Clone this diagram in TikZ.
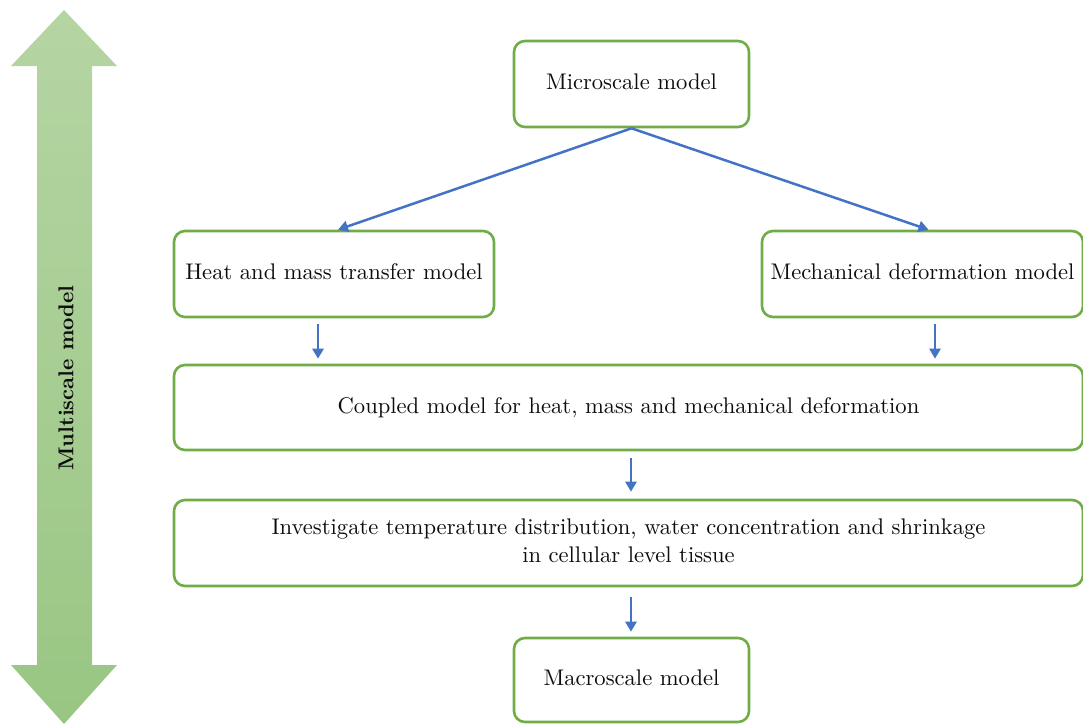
\documentclass[tikz,border=0pt]{standalone}
\usepackage{graphicx}
\usetikzlibrary{arrows.meta,calc}
\definecolor{boxgreen}{HTML}{70AD47}
\definecolor{flowblue}{HTML}{4472C4}
\definecolor{arrowtop}{HTML}{B5D5A3}
\definecolor{arrowbot}{HTML}{99C683}
\definecolor{ink}{HTML}{0D0D0D}
% text set at its 10pt design size, then enlarged
\newcommand{\lbl}[1]{\scalebox{2.26}{\fontsize{10}{12.4}\selectfont\begin{tabular}{@{}c@{}}#1\end{tabular}}}
\tikzset{
  stage/.style={draw=boxgreen, line width=2.6pt, rounded corners=11pt, fill=white,
    text=ink, align=center, inner sep=0pt},
  flow/.style={draw=flowblue, line width=2.5pt, -{Triangle[length=10pt,width=11pt]}},
}
\begin{document}
\begin{tikzpicture}[x=1pt,y=-1pt]
\useasboundingbox (0,0) rectangle (1083,725);

% scale indicator: double-headed arrow on the left
\shade[top color=arrowtop, bottom color=arrowbot]
  (64,10) -- (117,66) -- (92,66) -- (92,665) -- (117,665) -- (64,724)
  -- (11,665) -- (37,665) -- (37,66) -- (11,66) -- cycle;
\node[rotate=90, text=ink, inner sep=0pt] (scale) at (66,378)
  {\scalebox{2.15}{\fontsize{10}{12}\selectfont\bfseries Multiscale model}};

% model stages
\node[stage, minimum width=235pt, minimum height=86pt] (micro) at (631.5,84) {\lbl{Microscale model}};
\node[stage, minimum width=320pt, minimum height=86pt] (heat) at (334,274) {\lbl{Heat and mass transfer model}};
\node[stage, minimum width=321pt, minimum height=86pt] (mech) at (922.5,274) {\lbl{Mechanical deformation model}};
\node[stage, minimum width=909pt, minimum height=85pt] (coupled) at (628.5,407.5) {\lbl{Coupled model for heat, mass and mechanical deformation}};
\node[stage, minimum width=909pt, minimum height=86pt] (invest) at (628.5,543) {\lbl{Investigate temperature distribution, water concentration and shrinkage\\ in cellular level tissue}};
\node[stage, minimum width=235pt, minimum height=84pt] (macro) at (631.5,680) {\lbl{Macroscale model}};

% connectors
\draw[flow] (micro.south) -- ([xshift=4pt]heat.north);
\draw[flow] (micro.south) -- ([xshift=6pt]mech.north);
\draw[flow, shorten <=6pt, shorten >=5pt] ([xshift=-16pt]heat.south) -- ([xshift=-16pt]heat.south |- coupled.north);
\draw[flow, shorten <=6pt, shorten >=5pt] ([xshift=12.5pt]mech.south) -- ([xshift=12.5pt]mech.south |- coupled.north);
\draw[flow, shorten <=7pt, shorten >=7pt] ([xshift=2.5pt]coupled.south) -- ([xshift=2.5pt]coupled.south |- invest.north);
\draw[flow, shorten <=10pt, shorten >=5pt] ([xshift=2.5pt]invest.south) -- ([xshift=2.5pt]invest.south |- macro.north);
\end{tikzpicture}
\end{document}
